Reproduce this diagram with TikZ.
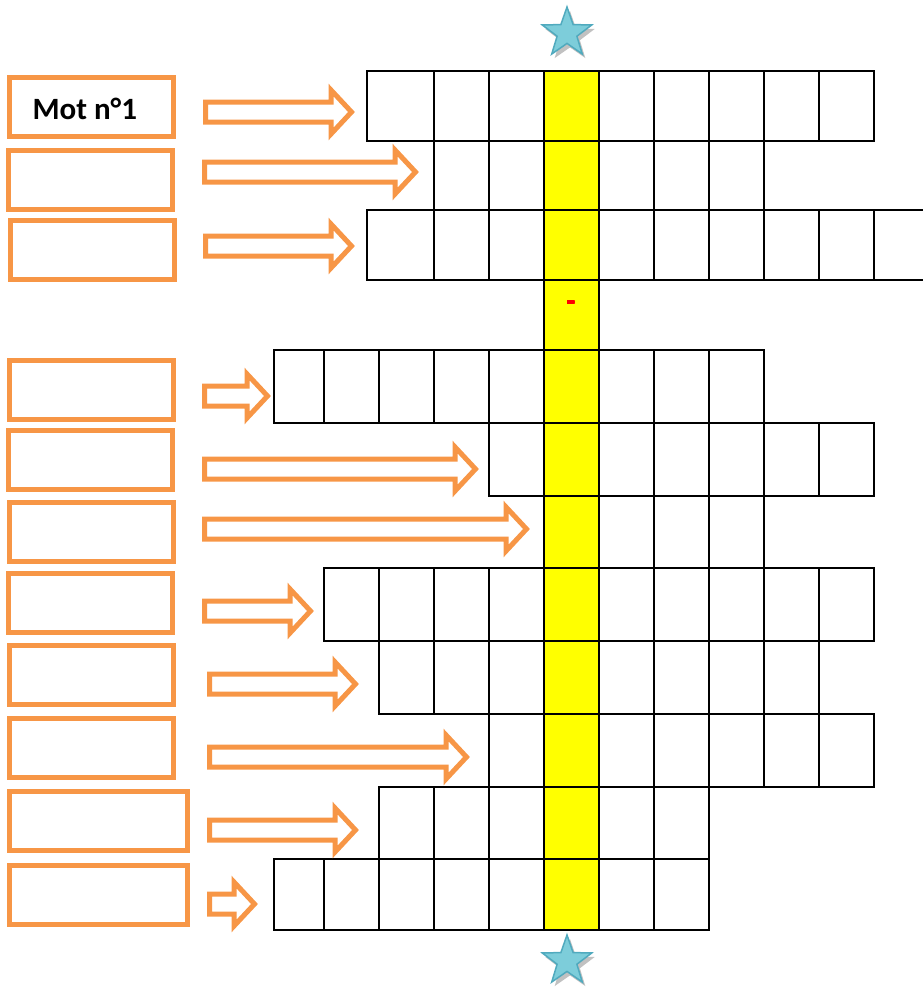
\documentclass[tikz,border=0pt]{standalone}
\usepackage{fontspec}
\setmainfont{Carlito}
\usetikzlibrary{shapes.geometric}
\definecolor{orangemot}{RGB}{247,150,70}
\definecolor{jaune}{RGB}{255,255,0}
\definecolor{bleuetoile}{RGB}{125,205,218}
\definecolor{bordetoile}{RGB}{80,170,190}

\begin{document}
\begin{tikzpicture}[x=1pt,y=-1pt,
    case/.style={draw=black,line width=2.7pt},
    boite/.style={draw=orangemot,line width=5pt,minimum width=164pt,minimum height=59pt,inner sep=0pt},
    fleche/.style={draw=orangemot,line width=5pt,fill=white,line join=miter},
    etoile/.style={star,star points=5,star point ratio=2.5,minimum size=52pt,inner sep=0pt,fill=bleuetoile,draw=bordetoile,line width=1.5pt},
    ombre/.style={star,star points=5,star point ratio=2.5,minimum size=52pt,inner sep=0pt,fill=gray!70,opacity=0.7}]
  \useasboundingbox (0,0) rectangle (922,989);
  \fill[jaune] (544,71) rectangle (599,930);
  \foreach \t/\b/\cols in {71/141/{367,434,489,544,599,654,709,764,819,874},
      141/210/{434,489,544,599,654,709,764},
      210/280/{367,434,489,544,599,654,709,764,819,874,930},
      280/350/{544,599},
      350/423/{274,324,379,434,489,544,599,654,709,764},
      423/496/{489,544,599,654,709,764,819,874},
      496/568/{544,599,654,709,764},
      568/641/{324,379,434,489,544,599,654,709,764,819,874},
      641/714/{379,434,489,544,599,654,709,764,819},
      714/787/{489,544,599,654,709,764,819,874},
      787/859/{379,434,489,544,599,654,709},
      859/930/{274,324,379,434,489,544,599,654,709}}
    \foreach \x [remember=\x as \px (initially 0)] in \cols
      {\ifnum\px>0 \draw[case] (\px,\t) rectangle (\x,\b);\fi}
  \node[text=red,font=\bfseries\fontsize{28}{28}\selectfont] (tiret) at (571,306) {-};
  \foreach \i/\x/\y/\w in {1/91.5/106.5/164, 2/90.5/179.5/164, 3/92/250/164,
      4/91.5/389.5/164, 5/90.5/459.5/164, 6/91.5/532/164, 7/90.5/602.5/164,
      8/91.5/674.5/164, 9/91.5/748/164, 10/98.5/820.5/178, 11/98.5/895/178}
    \node[boite,minimum width=\w pt] (mot\i) at (\x,\y) {};
  \node[anchor=base west,font=\bfseries\fontsize{31}{31}\selectfont] (titre) at (29,119) {Mot n°1};
  \foreach \a/\p/\y in {203/355/112, 202/419/172, 203/355/246, 202/271/396,
      202/479/469, 202/530/529, 202/314/611, 207/359/684, 207/470/757,
      207/359/830, 207/258/904}
    \draw[fleche] (\a+2.5,\y-10) -- (\p-24,\y-10) -- (\p-24,\y-22) -- (\p-3.5,\y)
      -- (\p-24,\y+22) -- (\p-24,\y+10) -- (\a+2.5,\y+10) -- cycle;
  \node[ombre] (ombrehaut) at (570,37) {};
  \node[etoile] (etoilehaut) at (567,33) {};
  \node[ombre] (ombrebas) at (570,965) {};
  \node[etoile] (etoilebas) at (567,961) {};
\end{tikzpicture}
\end{document}
